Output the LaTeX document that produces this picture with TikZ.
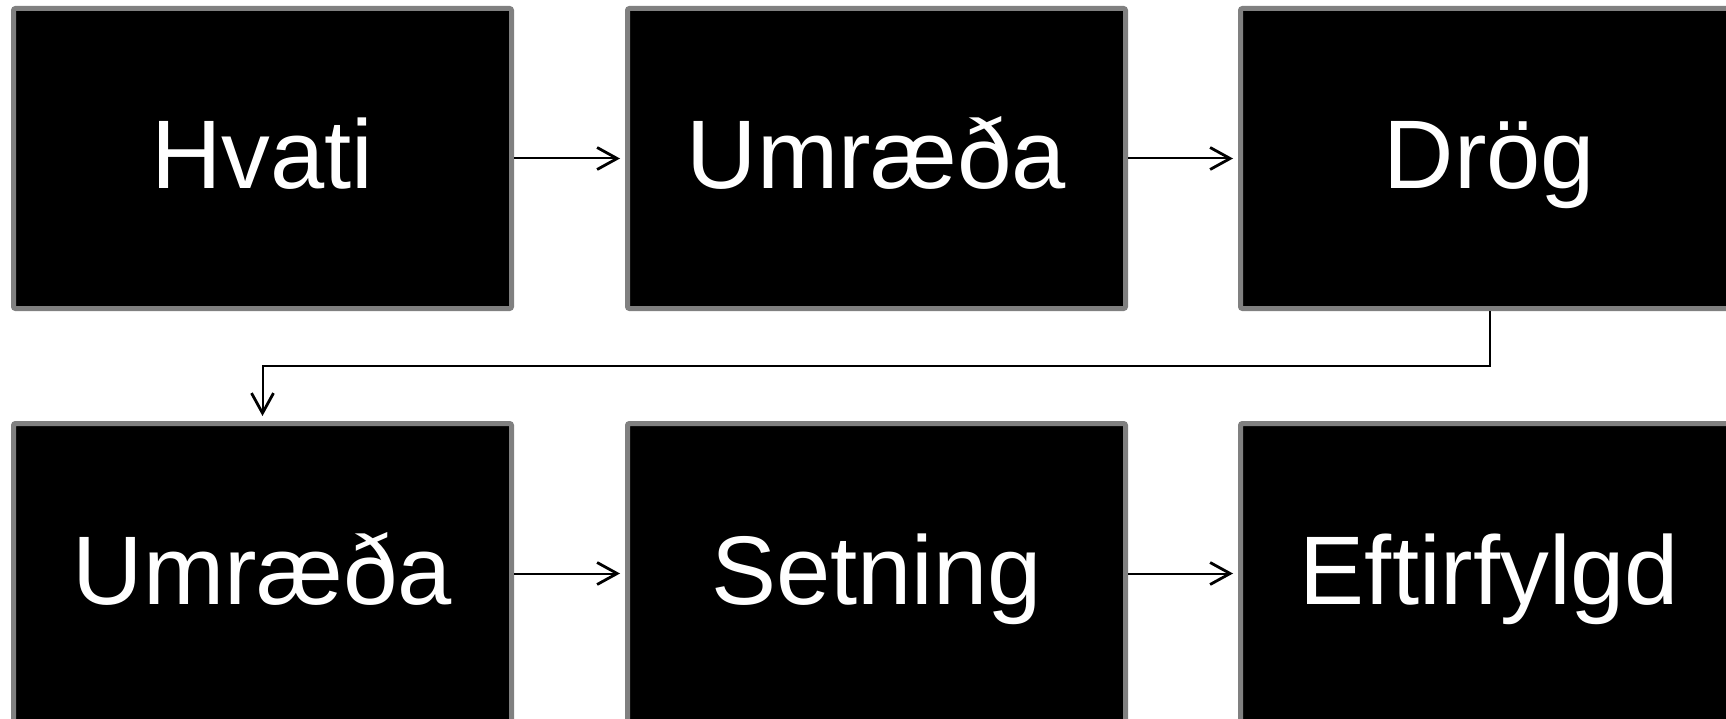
\documentclass[tikz,border=0pt]{standalone}
\usepackage{fontspec}
\setmainfont{Liberation Sans}
\usetikzlibrary{arrows.meta}
\definecolor{boxgray}{HTML}{808080}
\tikzset{
  stagebox/.style={draw=boxgray, line width=5pt, fill=black, rounded corners=2pt,
    minimum width=498pt, minimum height=300pt, inner sep=0pt,
    text=white, font=\fontsize{97.5pt}{110pt}\selectfont,
    text height=80pt, text depth=19pt},
  flow/.style={line width=2pt, -{Straight Barb[length=20pt,width=22pt,line width=2.8pt]}, shorten >=5pt}
}
\begin{document}
\begin{tikzpicture}[x=1pt,y=-1pt]
\useasboundingbox (0,0) rectangle (1726,719);
\clip (0,0) rectangle (1726,719);
\fill[white] (0,0) rectangle (1726,719);
\node[stagebox] (b1) at (262.5,158.5) {Hvati};
\node[stagebox] (b2) at (876.5,158.5) {Umræða};
\node[stagebox] (b3) at (1489.5,158.5) {Drög};
\node[stagebox] (b4) at (262.5,573.5) {Umræða};
\node[stagebox] (b5) at (876.5,573.5) {Setning};
\node[stagebox] (b6) at (1489.5,573.5) {Eftirfylgd};
\coordinate (bend) at (1489.5,366);
\draw[flow] (b1.east) -- (b2.west);
\draw[flow] (b2.east) -- (b3.west);
\draw[flow] (b3.south) -- (bend) -| (b4.north);
\draw[flow] (b4.east) -- (b5.west);
\draw[flow] (b5.east) -- (b6.west);
\end{tikzpicture}
\end{document}
